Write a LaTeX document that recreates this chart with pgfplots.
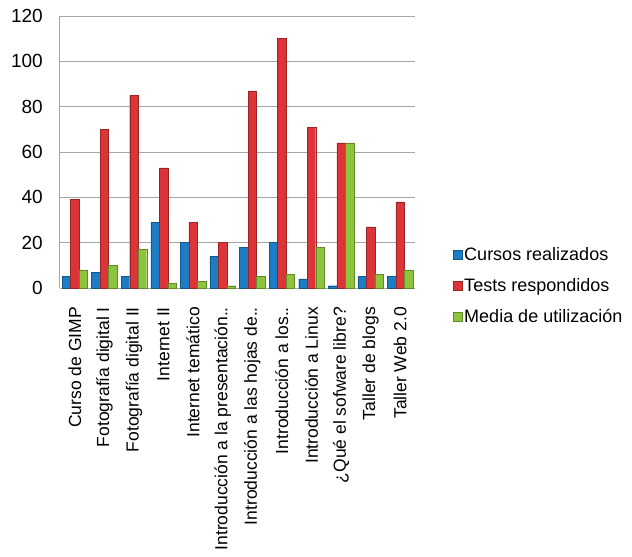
\documentclass[border=0pt]{standalone}
\usepackage{pgfplots}
\pgfplotsset{compat=1.18}
\usepackage{fontspec}
\setmainfont{Liberation Sans}

\definecolor{cblue}{HTML}{1C7CC4}
\definecolor{cred}{HTML}{DD3438}
\definecolor{cgreen}{HTML}{8DC43E}

\begin{document}
\begin{tikzpicture}
\useasboundingbox (-60pt,-269pt) rectangle (572pt,288pt);
\begin{axis}[
    at={(0,0)}, anchor=south west,
    scale only axis,
    width=355pt, height=272pt,
    ybar=0pt, bar width=8.5pt,
    xmin=-0.5, xmax=11.5,
    ymin=0, ymax=120,
    ytick={0,20,...,120},
    yticklabels={0,20,40,60,80,100,120},
    xtick=data,
    xticklabels={Curso de GIMP,Fotografía digital I,Fotografía digital II,Internet II,Internet temático,Introducción a la presentación..,Introducción a las hojas de..,Introducción a los..,Introducción a Linux,¿Qué el sofware libre?,Taller de blogs,Taller Web 2.0},
    major tick length=0pt,
    axis x line*=bottom, axis y line*=left,
    axis line style={gray!70, line width=1pt, -},
    ymajorgrids, grid style={gray!70, line width=1pt},
    /pgf/number format/assume math mode=true,
    y tick label style={font=\fontsize{19}{19}\selectfont, anchor=east, inner sep=0pt, xshift=-17pt},
    x tick label style={font=\fontsize{17.5}{17.5}\selectfont, rotate=90, anchor=east, inner sep=0pt},
    xticklabel shift=19pt,
    legend style={at={(1.099,0.007)}, anchor=west, draw=none, fill=none,
        font=\fontsize{18}{18}\selectfont,
        nodes={inner sep=1.5pt, minimum height=31pt}},
    legend cell align=left,
    legend image code/.code={\fill[#1] (0pt,-4.5pt) rectangle (9pt,4.5pt);},
]
\addplot[fill=cblue, draw=cblue!70!black, line width=0.4pt] coordinates {
    (0,5) (1,7) (2,5) (3,29) (4,20) (5,14) (6,18) (7,20) (8,4) (9,1) (10,5) (11,5)};
\addplot[fill=cred, draw=cred!70!black, line width=0.4pt] coordinates {
    (0,39) (1,70) (2,85) (3,53) (4,29) (5,20) (6,87) (7,110) (8,71) (9,64) (10,27) (11,38)};
\addplot[fill=cgreen, draw=cgreen!70!black, line width=0.4pt] coordinates {
    (0,8) (1,10) (2,17) (3,2) (4,3) (5,1) (6,5) (7,6) (8,18) (9,64) (10,6) (11,8)};
\legend{Cursos realizados,Tests respondidos,Media de utilización}
\end{axis}
\end{tikzpicture}
\end{document}
